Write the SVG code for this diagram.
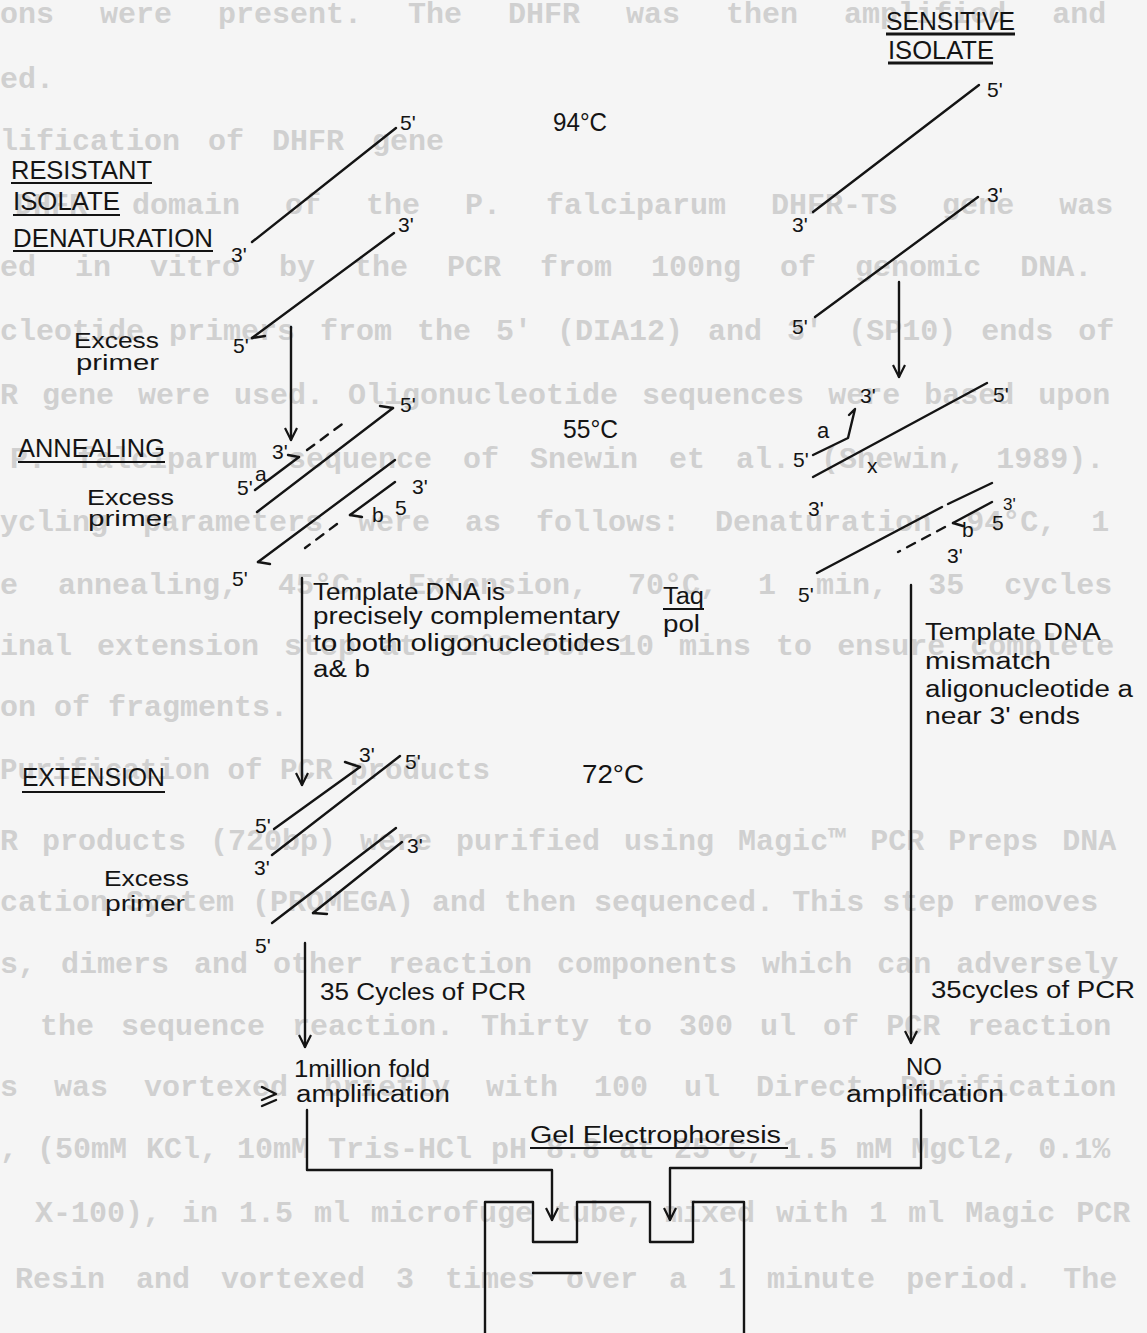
<svg xmlns="http://www.w3.org/2000/svg" width="1147" height="1333" viewBox="0 0 1147 1333">
<style>
.bg{font-family:"Liberation Mono","Courier New",monospace;font-weight:bold;font-size:30px;fill:#d0d0d0}
.t{font-family:"Liberation Sans",Arial,sans-serif;fill:#141414}
.h{font-size:25px}
.m{font-size:23px}
.e{font-size:22px}
.l{font-size:21px}
.s{stroke:#141414;stroke-width:2.4;fill:none;stroke-linecap:round;stroke-linejoin:round}
.u{stroke:#141414;stroke-width:2.2;fill:none}
.ub{stroke:#141414;stroke-width:3.2;fill:none}
.d{stroke-dasharray:9 8}
</style>
<defs>
<marker id="ah" viewBox="0 0 14 14" refX="13" refY="7" markerWidth="14" markerHeight="14" markerUnits="userSpaceOnUse" orient="auto">
<path d="M1,1 L13,7 L1,13" fill="none" stroke="#141414" stroke-width="2.2"/>
</marker>
</defs>
<rect x="0" y="0" width="1147" height="1333" fill="#f5f5f5"/>

<g id="page-text">
<text class="bg" x="0" y="23" style="word-spacing:28px">ons were present. The DHFR was then amplified and</text>
<text class="bg" x="0" y="88">ed.</text>
<text class="bg" x="0" y="150" style="word-spacing:10px">lification of DHFR gene</text>
<text class="bg" x="15" y="214" style="word-spacing:27px">DHFR domain of the P. falciparum DHFR-TS gene was</text>
<text class="bg" x="0" y="276" style="word-spacing:21px">ed in vitro by the PCR from 100ng of genomic DNA.</text>
<text class="bg" x="0" y="340" style="word-spacing:7px">cleotide primers from the 5' (DIA12) and 3' (SP10) ends of</text>
<text class="bg" x="0" y="404" style="word-spacing:6px">R gene were used. Oligonucleotide sequences were based upon</text>
<text class="bg" x="10" y="468" style="word-spacing:13px">P. falciparum sequence of Snewin et al. (Snewin, 1989).</text>
<text class="bg" x="0" y="531" style="word-spacing:17px">ycling parameters were as follows: Denaturation 94°C, 1</text>
<text class="bg" x="0" y="594" style="word-spacing:22px">e annealing, 45°C; Extension, 70°C, 1 min, 35 cycles</text>
<text class="bg" x="0" y="655" style="word-spacing:7px">inal extension step at 72°C for 10 mins to ensure complete</text>
<text class="bg" x="0" y="716">on of fragments.</text>
<text class="bg" x="0" y="779" textLength="490" lengthAdjust="spacingAndGlyphs">Purification of PCR products</text>
<text class="bg" x="0" y="850" style="word-spacing:6px">R products (720bp) were purified using Magic™ PCR Preps DNA</text>
<text class="bg" x="0" y="911">cation System (PROMEGA) and then sequenced. This step removes</text>
<text class="bg" x="0" y="973" style="word-spacing:7px">s, dimers and other reaction components which can adversely</text>
<text class="bg" x="40" y="1035" style="word-spacing:9px">the sequence reaction. Thirty to 300 ul of PCR reaction</text>
<text class="bg" x="0" y="1096" style="word-spacing:18px">s was vortexed briefly with 100 ul Direct Purification</text>
<text class="bg" x="0" y="1158" style="word-spacing:1px">, (50mM KCl, 10mM Tris-HCl pH 8.8 at 25°C, 1.5 mM MgCl2, 0.1%</text>
<text class="bg" x="35" y="1222" style="word-spacing:3px">X-100), in 1.5 ml microfuge tube, mixed with 1 ml Magic PCR</text>
<text class="bg" x="15" y="1288" style="word-spacing:13px">Resin and vortexed 3 times over a 1 minute period. The</text>
</g>

<g id="headings">
<text class="t h" x="11" y="179" textLength="141" lengthAdjust="spacingAndGlyphs">RESISTANT</text>
<line class="u" x1="11" y1="183" x2="152" y2="183"/>
<text class="t h" x="13" y="210" textLength="107" lengthAdjust="spacingAndGlyphs">ISOLATE</text>
<line class="u" x1="13" y1="215" x2="120" y2="215"/>
<text class="t h" x="13" y="247" textLength="200" lengthAdjust="spacingAndGlyphs">DENATURATION</text>
<line class="u" x1="13" y1="251" x2="213" y2="251"/>
<text class="t h" x="18" y="457" textLength="147" lengthAdjust="spacingAndGlyphs">ANNEALING</text>
<line class="u" x1="18" y1="462" x2="165" y2="462"/>
<text class="t h" x="22" y="786" textLength="143" lengthAdjust="spacingAndGlyphs">EXTENSION</text>
<line class="u" x1="22" y1="792" x2="165" y2="792"/>
<text class="t h" x="886" y="30" textLength="129" lengthAdjust="spacingAndGlyphs">SENSITIVE</text>
<line class="ub" x1="886" y1="34" x2="1015" y2="34"/>
<text class="t h" x="888" y="59" textLength="106" lengthAdjust="spacingAndGlyphs">ISOLATE</text>
<line class="ub" x1="888" y1="63" x2="993" y2="63"/>
</g>

<g id="temperatures">
<text class="t h" x="553" y="131" textLength="54" lengthAdjust="spacingAndGlyphs">94°C</text>
<text class="t h" x="563" y="438" textLength="55" lengthAdjust="spacingAndGlyphs">55°C</text>
<text class="t h" x="582" y="783" textLength="62" lengthAdjust="spacingAndGlyphs">72°C</text>
</g>

<g id="excess-primer-labels">
<text class="t e" x="74" y="348" textLength="85" lengthAdjust="spacingAndGlyphs">Excess</text>
<text class="t e" x="76" y="370" textLength="83" lengthAdjust="spacingAndGlyphs">primer</text>
<text class="t e" x="87" y="505" textLength="87" lengthAdjust="spacingAndGlyphs">Excess</text>
<text class="t e" x="88" y="526" textLength="84" lengthAdjust="spacingAndGlyphs">primer</text>
<text class="t e" x="104" y="886" textLength="85" lengthAdjust="spacingAndGlyphs">Excess</text>
<text class="t e" x="105" y="911" textLength="80" lengthAdjust="spacingAndGlyphs">primer</text>
</g>

<g id="resistant-denaturation">
<line class="s" x1="252" y1="242" x2="396" y2="128"/>
<line class="s" x1="394" y1="233" x2="252" y2="338"/>
<line class="s" x1="252" y1="338" x2="265" y2="336"/>
<text class="t l" x="400" y="130">5'</text>
<text class="t l" x="231" y="262">3'</text>
<text class="t l" x="398" y="232">3'</text>
<text class="t l" x="233" y="353">5'</text>
</g>

<g id="resistant-annealing">
<line class="s" x1="255" y1="490" x2="299" y2="457"/>
<line class="s" x1="299" y1="457" x2="288" y2="455"/>
<line class="s d" x1="307" y1="450" x2="345" y2="422"/>
<line class="s" x1="257" y1="512" x2="393" y2="408"/>
<line class="s" x1="393" y1="408" x2="380" y2="406"/>
<line class="s" x1="395" y1="460" x2="258" y2="562"/>
<line class="s" x1="258" y1="562" x2="270" y2="564"/>
<line class="s" x1="395" y1="482" x2="350" y2="515"/>
<line class="s" x1="350" y1="515" x2="362" y2="517"/>
<line class="s d" x1="337" y1="524" x2="305" y2="548"/>
<text class="t l" x="272" y="459">3'</text>
<text class="t l" x="237" y="495">5'</text>
<text class="t l" x="255" y="481">a</text>
<text class="t l" x="400" y="412">5'</text>
<text class="t l" x="412" y="494">3'</text>
<text class="t l" x="372" y="522">b</text>
<text class="t l" x="395" y="515">5</text>
<text class="t l" x="232" y="586">5'</text>
</g>

<g id="note-complementary">
<text class="t m" x="313" y="600" textLength="192" lengthAdjust="spacingAndGlyphs">Template DNA is</text>
<text class="t m" x="313" y="624" textLength="307" lengthAdjust="spacingAndGlyphs">precisely complementary</text>
<text class="t m" x="313" y="651" textLength="307" lengthAdjust="spacingAndGlyphs">to both oligonucleotides</text>
<text class="t m" x="313" y="677" textLength="57" lengthAdjust="spacingAndGlyphs">a&amp; b</text>
</g>

<g id="taq-pol">
<text class="t m" x="663" y="604" textLength="41" lengthAdjust="spacingAndGlyphs">Taq</text>
<line class="u" x1="663" y1="609" x2="704" y2="609"/>
<text class="t m" x="663" y="632" textLength="37" lengthAdjust="spacingAndGlyphs">pol</text>
</g>

<g id="resistant-extension">
<line class="s" x1="274" y1="829" x2="360" y2="767"/>
<line class="s" x1="360" y1="767" x2="345" y2="762"/>
<line class="s" x1="272" y1="855" x2="400" y2="756"/>
<line class="s" x1="396" y1="828" x2="272" y2="923"/>
<line class="s" x1="402" y1="842" x2="313" y2="913"/>
<line class="s" x1="313" y1="913" x2="327" y2="914"/>
<text class="t l" x="359" y="762">3'</text>
<text class="t l" x="405" y="769">5'</text>
<text class="t l" x="255" y="833">5'</text>
<text class="t l" x="254" y="875">3'</text>
<text class="t l" x="407" y="853">3'</text>
<text class="t l" x="255" y="953">5'</text>
</g>

<g id="note-cycles-left">
<text class="t m" x="320" y="1000" textLength="206" lengthAdjust="spacingAndGlyphs">35 Cycles of PCR</text>
</g>

<g id="result-amplification">
<text class="t m" x="294" y="1077" textLength="136" lengthAdjust="spacingAndGlyphs">1million fold</text>
<text class="t m" x="296" y="1102" textLength="154" lengthAdjust="spacingAndGlyphs">amplification</text>
<path class="s" d="M262,1087 L276,1094 L262,1100 M262,1106 L276,1100"/>
</g>

<g id="sensitive-denaturation">
<line class="s" x1="813" y1="212" x2="979" y2="85"/>
<line class="s" x1="978" y1="197" x2="815" y2="317"/>
<text class="t l" x="987" y="97">5'</text>
<text class="t l" x="792" y="232">3'</text>
<text class="t l" x="987" y="202">3'</text>
<text class="t l" x="792" y="334">5'</text>
</g>

<g id="sensitive-annealing">
<path class="s" d="M813,455 L848,438 L855,409 L849,415"/>
<line class="s" x1="813" y1="477" x2="987" y2="383"/>
<line class="s" x1="992" y1="483" x2="948" y2="504"/>
<line class="s" x1="942" y1="507" x2="817" y2="573"/>
<line class="s" x1="992" y1="502" x2="953" y2="523"/>
<line class="s" x1="953" y1="523" x2="963" y2="526"/>
<line class="s d" x1="945" y1="527" x2="898" y2="552"/>
<text class="t l" x="860" y="403">3'</text>
<text class="t l" x="993" y="402">5'</text>
<text class="t e" x="817" y="438">a</text>
<text class="t l" x="793" y="467">5'</text>
<text class="t l" x="867" y="473">x</text>
<text class="t l" x="808" y="516">3'</text>
<text class="t l" x="962" y="537">b</text>
<text class="t l" x="992" y="530">5</text>
<text class="t" style="font-size:17px" x="1003" y="510">3'</text>
<text class="t l" x="947" y="563">3'</text>
<text class="t l" x="798" y="602">5'</text>
</g>

<g id="note-mismatch">
<text class="t m" x="925" y="640" textLength="176" lengthAdjust="spacingAndGlyphs">Template DNA</text>
<text class="t m" x="925" y="669" textLength="126" lengthAdjust="spacingAndGlyphs">mismatch</text>
<text class="t m" x="925" y="697" textLength="208" lengthAdjust="spacingAndGlyphs">aligonucleotide a</text>
<text class="t m" x="925" y="724" textLength="155" lengthAdjust="spacingAndGlyphs">near 3' ends</text>
</g>

<g id="note-cycles-right">
<text class="t m" x="931" y="998" textLength="204" lengthAdjust="spacingAndGlyphs">35cycles of PCR</text>
</g>

<g id="result-none">
<text class="t m" x="906" y="1075" textLength="36" lengthAdjust="spacingAndGlyphs">NO</text>
<text class="t m" x="846" y="1102" textLength="158" lengthAdjust="spacingAndGlyphs">amplification</text>
</g>

<g id="gel">
<text class="t m" x="530" y="1143" textLength="251" lengthAdjust="spacingAndGlyphs">Gel Electrophoresis</text>
<line class="u" x1="530" y1="1148" x2="788" y2="1148"/>
<path class="s" d="M485,1333 V1202 H533 V1242 H577 V1202 H650 V1242 H693 V1202 H744 V1333"/>
<line class="s" x1="533" y1="1273" x2="581" y2="1273"/>
</g>

<g id="connectors">
<line class="s" x1="291" y1="327" x2="291" y2="440" marker-end="url(#ah)"/>
<line class="s" x1="302" y1="578" x2="302" y2="785" marker-end="url(#ah)"/>
<line class="s" x1="305" y1="943" x2="305" y2="1047" marker-end="url(#ah)"/>
<path class="s" d="M307,1110 V1170 H552 V1220" marker-end="url(#ah)"/>
<line class="s" x1="899" y1="282" x2="899" y2="377" marker-end="url(#ah)"/>
<line class="s" x1="911" y1="585" x2="911" y2="1043" marker-end="url(#ah)"/>
<path class="s" d="M921,1110 V1168 H670 V1220" marker-end="url(#ah)"/>
</g>
</svg>
